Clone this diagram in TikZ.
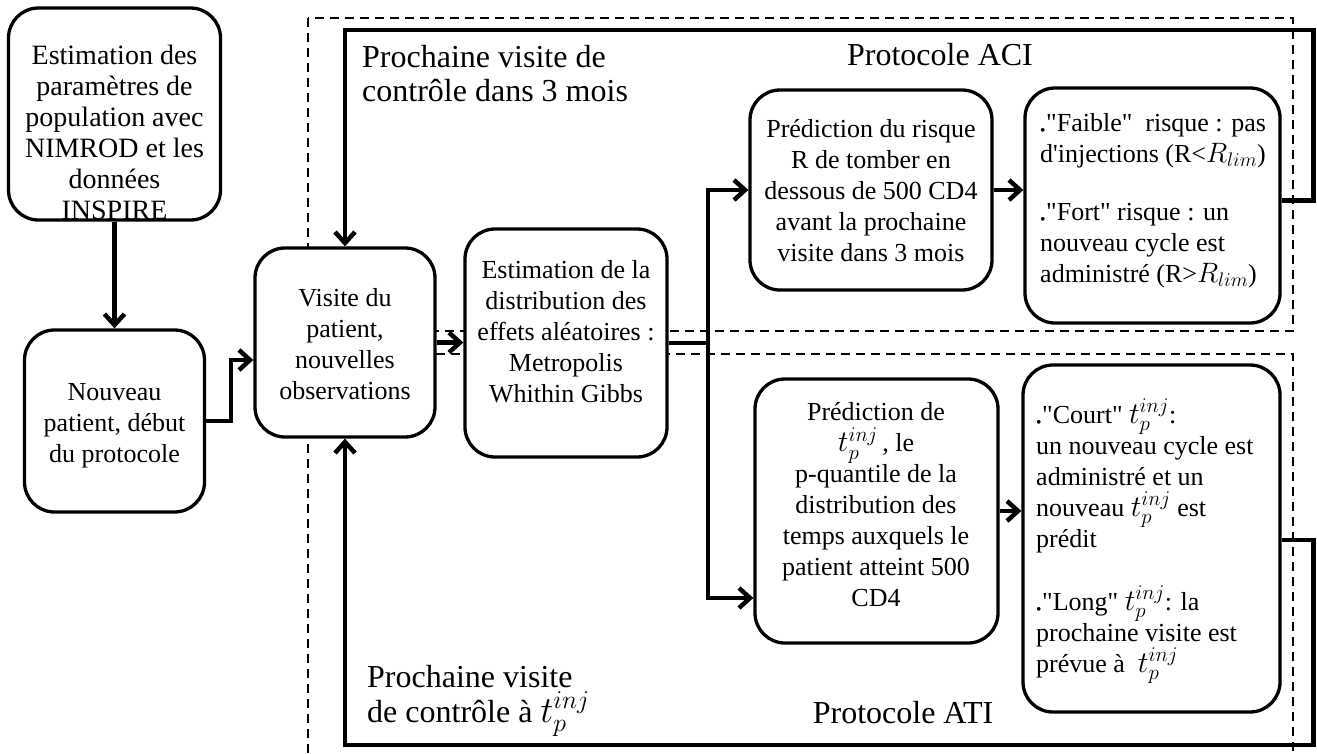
\RequirePackage{fix-cm}
\documentclass[tikz,border=0pt]{standalone}
\usepackage{fontspec}
\setmainfont{Liberation Serif}[Ligatures=TeXOff]
\usepackage{graphicx}
\usetikzlibrary{arrows.meta}
\newcommand\bul{\makebox[6pt][l]{\raisebox{-4pt}{\scalebox{0.6}{•}}}}
\newcommand\tinj{\scalebox{1.15}{$t_p^{inj}$}}
\newcommand\rlim{\scalebox{1.08}{$R_{lim}$}}
\begin{document}
\begin{tikzpicture}[x=1pt,y=-1pt,
  box/.style={draw,line width=3.3pt,rounded corners=30pt,fill=white,inner sep=0pt},
  txt/.style={font=\fontsize{26}{31}\selectfont,align=center,inner sep=0pt},
  ltxt/.style={font=\fontsize{26}{31}\selectfont,align=left,inner sep=0pt,anchor=west},
  btxt/.style={font=\fontsize{32}{34.5}\selectfont,align=left,inner sep=0pt},
  conn/.style={line width=4.5pt},
  arr/.style={conn,-{Straight Barb[length=11pt,width=20pt]}},
  dsh/.style={line width=2.5pt,dash pattern=on 9pt off 6pt}]
\useasboundingbox (0,0) rectangle (1317,753);
% dashed protocol frames
\draw[dsh] (308,18) rectangle (1293,331);
\draw[dsh] (308,354) rectangle (1293,780);
% boxes
\node[box,minimum width=212pt,minimum height=212pt] (b1) at (114.5,114) {};
\node[box,minimum width=180pt,minimum height=182pt] (b2) at (114.5,421) {};
\node[box,minimum width=180pt,minimum height=189pt] (vis) at (345,342.5) {};
\node[box,minimum width=202pt,minimum height=228pt] (est) at (566,343) {};
\node[box,minimum width=242pt,minimum height=200pt] (pr) at (871,190) {};
\node[box,minimum width=255pt,minimum height=235pt] (fb) at (1152.5,205.5) {};
\node[box,minimum width=243pt,minimum height=264pt] (pd) at (876.5,511) {};
\node[box,minimum width=257pt,minimum height=347pt] (ct) at (1151.5,538.5) {};
% connectors
\coordinate (j1) at (708,343);
\coordinate (c1) at (345,30);
\coordinate (c2) at (345,745);
\draw[arr] (b1.south) -- (b2.north);
\draw[arr] (b2.east) -- ++(25,0) |- ([yshift=-17.5pt]vis.west);
\draw[arr] (vis.east) -- (vis.east -| est.west);
\draw[conn] (est.east) -- (j1);
\draw[arr] (j1) |- (pr.west);
\draw[arr] (j1) |- ([yshift=-87pt]pd.west);
\draw[arr] (pr.east) -- (pr.east -| fb.west);
\draw[arr] (pd.east) -- (pd.east -| ct.west);
\draw[arr] ([yshift=5pt]fb.east) -- ++(32,0) |- (c1) -- (vis.north);
\draw[arr] ([yshift=-1.5pt]ct.east) -- ++(32,0) |- (c2) -- (vis.south);
% texts
\node[txt,font=\fontsize{28}{31}\selectfont] (t1) at (114.5,132) {Estimation des\\paramètres de\\population avec\\NIMROD et les\\données\\INSPIRE};
\node[txt] (t2) at (114.5,426) {Nouveau\\patient, début\\du protocole};
\node[txt] (tv) at (345,344) {Visite du\\patient,\\nouvelles\\observations};
\node[txt] (te) at (566,332) {Estimation de la\\distribution des\\effets aléatoires :\\Metropolis\\Whithin Gibbs};
\node[txt] (tpr) at (871,191) {Prédiction du risque\\R de tomber en\\dessous de 500 CD4\\avant la prochaine\\visite dans 3 mois};
\node[ltxt] (tfb) at (1040,201) {\bul"Faible" \ risque : pas\\d'injections (R<\rlim)\\[27pt]\bul"Fort" risque : un\\nouveau cycle est\\administré (R>\rlim)};
\node[txt] (tpd) at (876,505) {Prédiction de\\\tinj\,, le\\p-quantile de la\\distribution des\\temps auxquels le\\patient atteint 500\\CD4};
\node[ltxt] (tct) at (1036,541) {\bul"Court" \tinj:\\un nouveau cycle est\\administré et un\\nouveau \tinj\ est\\prédit\\[32pt]\bul"Long" \tinj: la\\prochaine visite est\\prévue à \ \tinj};
\node[btxt,anchor=west] (l1) at (362,73.5) {Prochaine visite de\\contrôle dans 3 mois};
\node[btxt,anchor=base] (aci) at (940,65) {Protocole ACI};
\node[btxt,anchor=base] (ati) at (903,723) {Protocole ATI};
\node[btxt,anchor=west] (l2) at (367,701) {Prochaine visite\\de contrôle à \tinj};
\end{tikzpicture}
\end{document}
